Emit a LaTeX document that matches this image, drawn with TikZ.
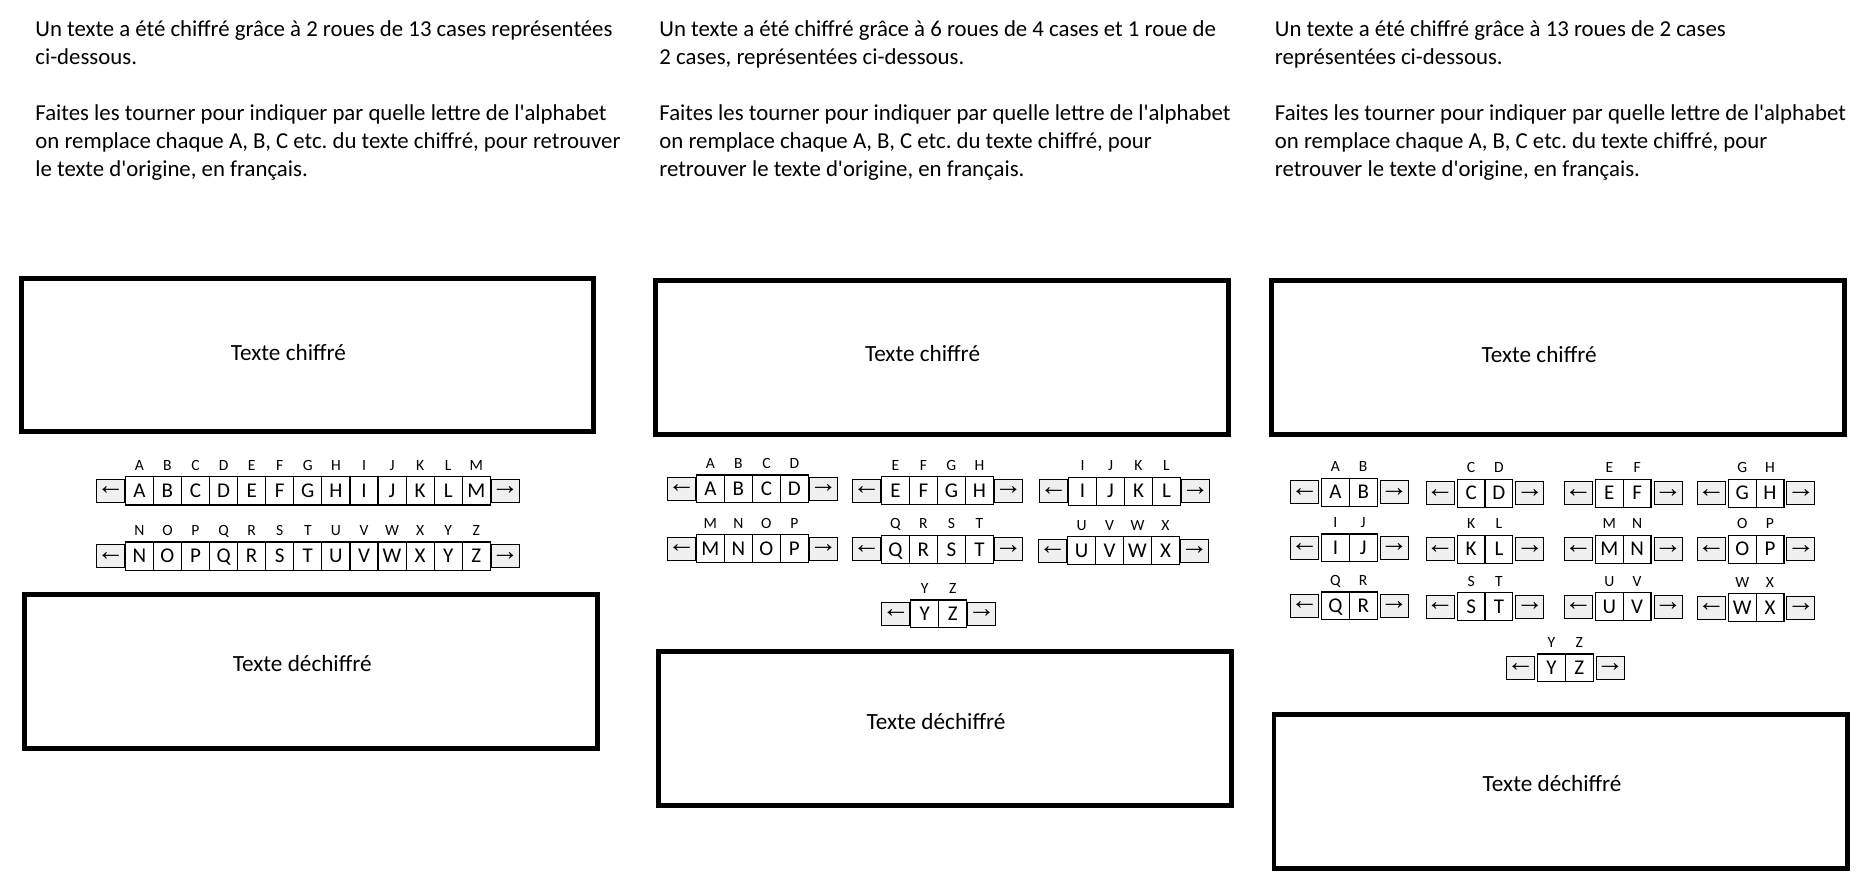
\documentclass[tikz,border=0pt]{standalone}
\usepackage{fontspec}
\setmainfont[Ligatures=TeXOff]{Carlito}
\newfontfamily\arrowfont{Liberation Sans}
\definecolor{arrowgray}{HTML}{F0F0F0}
\frenchspacing
\tikzset{
  bigbox/.style={draw, line width=2.45pt, inner sep=0pt, rectangle},
  cellbox/.style={draw, line width=0.6pt, fill=white, inner sep=0pt, rectangle,
    font=\fontsize{10.5}{12}\selectfont, text height=6.7pt, text depth=0pt},
  arrowbox/.style={draw, line width=0.5pt, fill=arrowgray, inner sep=0pt, rectangle,
    font=\arrowfont\fontsize{14}{14}\selectfont},
  toplab/.style={inner sep=0pt, anchor=base, font=\fontsize{7.8}{9}\selectfont},
  para/.style={anchor=base west, inner sep=0pt, font=\fontsize{11.4}{14}\selectfont},
  boxtext/.style={anchor=base west, inner sep=0pt, font=\fontsize{11.6}{14}\selectfont},
}
% #1 name, #2 xa, #3 yc, #4 cw, #5 ch, #6 aw, #7 gap, #8 n, #9 letters
\newcommand\mywheel[9]{%
  \node[arrowbox, minimum width={(#6-1)*0.5pt}, minimum height={(#5-5)*0.5pt}]
    (#1-L) at ({#2+#6/2},{#3+#5/2}) {←};
  \foreach \L [count=\i] in {#9} {
    \node[cellbox, minimum width={#4*0.5pt}, minimum height={#5*0.5pt}]
      (#1-\L) at ({#2+#6+#7+(\i-0.5)*#4},{#3+#5/2}) {\L};
    \node[toplab] (#1-t\L) at ({#2+#6+#7+(\i-0.5)*#4},{#3-6.5}) {\L};
  }
  \node[arrowbox, minimum width={(#6-1)*0.5pt}, minimum height={(#5-5)*0.5pt}]
    (#1-R) at ({#2+#6+2*#7+#8*#4+#6/2},{#3+#5/2}) {→};
}
\begin{document}
\begin{tikzpicture}[x=0.5pt,y=-0.5pt]
\useasboundingbox[fill=white] (0,0) rectangle (1863,885);

% ---------- Column 1 ----------
\node[para] (a1) at (35,36.5) {Un texte a été chiffré grâce à 2 roues de 13 cases représentées};
\node[para] (a2) at (35,64.5) {ci-dessous.};
\node[para] (a4) at (35,120.5) {Faites les tourner pour indiquer par quelle lettre de l'alphabet};
\node[para] (a5) at (35,148.5) {on remplace chaque A, B, C etc. du texte chiffré, pour retrouver};
\node[para] (a6) at (35,176.5) {le texte d'origine, en français.};

\node[bigbox, minimum width={572.5*0.5pt}, minimum height={153.3*0.5pt}] (c1top) at (307.6,355) {};
\node[boxtext] (c1toptxt) at (230.5,360) {Texte chiffré};
\node[bigbox, minimum width={572.5*0.5pt}, minimum height={154.3*0.5pt}] (c1bot) at (310.8,671.5) {};
\node[boxtext] (c1bottxt) at (232.5,671.7) {Texte déchiffré};

\mywheel{w1a}{98.7}{476.7}{28.08}{28.3}{23.6}{3}{13}{A,B,C,D,E,F,G,H,I,J,K,L,M}
\mywheel{w1b}{98.7}{542}{28.08}{28.3}{23.6}{3}{13}{N,O,P,Q,R,S,T,U,V,W,X,Y,Z}

% ---------- Column 2 ----------
\node[para] (b1) at (659,36.5) {Un texte a été chiffré grâce à 6 roues de 4 cases et 1 roue de};
\node[para] (b2) at (659,64.5) {2 cases, représentées ci-dessous.};
\node[para] (b4) at (659,120.5) {Faites les tourner pour indiquer par quelle lettre de l'alphabet};
\node[para] (b5) at (659,148.5) {on remplace chaque A, B, C etc. du texte chiffré, pour};
\node[para] (b6) at (659,176.5) {retrouver le texte d'origine, en français.};

\node[bigbox, minimum width={572.5*0.5pt}, minimum height={154*0.5pt}] (c2top) at (942,357.3) {};
\node[boxtext] (c2toptxt) at (864.6,361.7) {Texte chiffré};
\node[bigbox, minimum width={573.3*0.5pt}, minimum height={153.7*0.5pt}] (c2bot) at (944.9,728.5) {};
\node[boxtext] (c2bottxt) at (866.2,729.3) {Texte déchiffré};

\mywheel{w2a}{669.3}{475}{28}{27.8}{24.5}{2.6}{4}{A,B,C,D}
\mywheel{w2b}{854.3}{476.7}{28}{27.8}{24.5}{2.6}{4}{E,F,G,H}
\mywheel{w2c}{1041.4}{477.3}{28}{27.8}{24.5}{2.6}{4}{I,J,K,L}
\mywheel{w2d}{669.3}{534.7}{28}{27.8}{24.5}{2.6}{4}{M,N,O,P}
\mywheel{w2e}{854.3}{535.4}{28}{27.8}{24.5}{2.6}{4}{Q,R,S,T}
\mywheel{w2f}{1040.4}{536.7}{28}{27.8}{24.5}{2.6}{4}{U,V,W,X}
\mywheel{w2g}{883.6}{600}{28}{27.8}{24.5}{2.6}{2}{Y,Z}

% ---------- Column 3 ----------
\node[para] (d1) at (1274.5,36.5) {Un texte a été chiffré grâce à 13 roues de 2 cases};
\node[para] (d2) at (1274.5,64.5) {représentées ci-dessous.};
\node[para] (d4) at (1274.5,120.5) {Faites les tourner pour indiquer par quelle lettre de l'alphabet};
\node[para] (d5) at (1274.5,148.5) {on remplace chaque A, B, C etc. du texte chiffré, pour};
\node[para] (d6) at (1274.5,176.5) {retrouver le texte d'origine, en français.};

\node[bigbox, minimum width={573.3*0.5pt}, minimum height={154*0.5pt}] (c3top) at (1557.9,357.3) {};
\node[boxtext] (c3toptxt) at (1481.2,362) {Texte chiffré};
\node[bigbox, minimum width={573.7*0.5pt}, minimum height={154*0.5pt}] (c3bot) at (1560.8,791.3) {};
\node[boxtext] (c3bottxt) at (1482.3,791.7) {Texte déchiffré};

\mywheel{w3a}{1292.5}{478.3}{27.8}{27.8}{24}{5}{2}{A,B}
\mywheel{w3b}{1428.2}{479.3}{27.8}{27.8}{24}{5}{2}{C,D}
\mywheel{w3c}{1566.4}{479.3}{27.8}{27.8}{24}{5}{2}{E,F}
\mywheel{w3d}{1699.3}{479.3}{27.8}{27.8}{24}{5}{2}{G,H}
\mywheel{w3e}{1292.5}{534}{27.8}{27.8}{24}{5}{2}{I,J}
\mywheel{w3f}{1428.2}{535.3}{27.8}{27.8}{24}{5}{2}{K,L}
\mywheel{w3g}{1566.4}{535.3}{27.8}{27.8}{24}{5}{2}{M,N}
\mywheel{w3h}{1699.3}{535.3}{27.8}{27.8}{24}{5}{2}{O,P}
\mywheel{w3i}{1292.5}{592}{27.8}{27.8}{24}{5}{2}{Q,R}
\mywheel{w3j}{1428.2}{592.7}{27.8}{27.8}{24}{5}{2}{S,T}
\mywheel{w3k}{1566.4}{592.7}{27.8}{27.8}{24}{5}{2}{U,V}
\mywheel{w3l}{1699.3}{593.7}{27.8}{27.8}{24}{5}{2}{W,X}
\mywheel{w3m}{1508.6}{654}{27.8}{27.8}{24}{5}{2}{Y,Z}
\end{tikzpicture}
\end{document}
